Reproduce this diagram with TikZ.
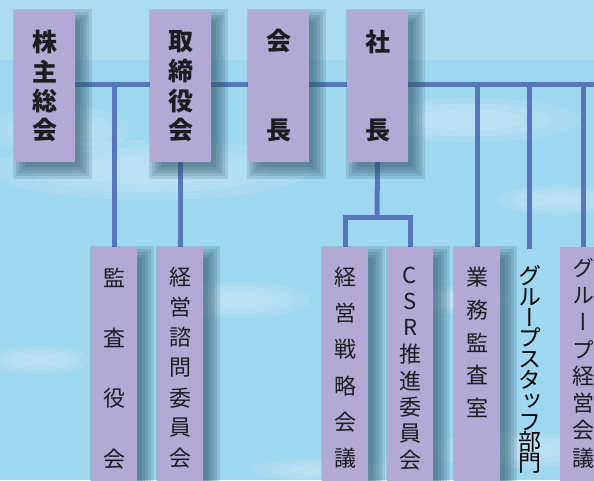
\documentclass[tikz,border=0pt]{standalone}
\usepackage{fontspec}
\newfontfamily\jp{Noto Sans CJK JP}
\newfontfamily\jpv[RawFeature=+vert]{Noto Sans CJK JP}
\definecolor{skyc}{RGB}{158,215,240}
\definecolor{boxc}{RGB}{178,170,212}
\definecolor{linec}{RGB}{88,118,186}
\definecolor{shadc}{RGB}{45,85,105}
\definecolor{inkc}{RGB}{30,28,32}
\pgfdeclarelayer{sky}
\pgfdeclarelayer{lines}
\pgfdeclarelayer{shadow}
\pgfsetlayers{sky,lines,shadow,main}
\newcommand\dropshadow[1]{%
  \foreach \r in {0,3,6,9,12}
    \fill[shadc,opacity=0.17] ([shift={(11-\r,11-\r)}]#1.north west) rectangle ([shift={(5+\r,5+\r)}]#1.south east);}
\newcommand\vcol[6]{%
  \foreach \ch [count=\i] in {#6}
    \node[#5] (#1-\i) at (#2,{#3+(\i-1)*#4}) {\ch};}
\begin{document}
\begin{tikzpicture}[x=1pt,y=-1pt,
  topbox/.style={fill=boxc,draw=none,inner sep=0pt,minimum width=61pt,minimum height=152pt},
  lowbox/.style={fill=boxc,draw=none,inner sep=0pt,minimum width=46pt,minimum height=243pt},
  toptxt/.style={inner sep=0pt,text=inkc,font={\jp\bfseries\fontsize{25}{25}\selectfont}},
  lowtxt/.style={inner sep=0pt,text=inkc,font={\jpv\fontsize{22}{22}\selectfont}},
  stafftxt/.style={inner sep=0pt,text height=15pt,text depth=2pt,text=black,font={\jpv\fontsize{23}{23}\selectfont}},
  conn/.style={draw=linec,line width=5pt}]
\useasboundingbox (0,0) rectangle (594,480);
\begin{pgfonlayer}{sky}
  \fill[skyc] (0,0) rectangle (594,480);
  \fill[white,opacity=0.15] (0,0) rectangle (594,60);
  \foreach \cx/\cy/\rx/\ry in {150/170/160/30, 60/130/70/25, 240/300/70/18, 450/300/60/14, 470/120/110/22, 520/450/90/18, 330/470/80/12, 40/360/50/14, 560/200/60/15}{
    \foreach \s in {1,0.75,0.5}
      \fill[white,opacity=0.11] (\cx,\cy) ellipse ({\rx*\s} and {\ry*\s});
  }
\end{pgfonlayer}
% top boxes
\node[topbox] (A) at (44.5,86) {};
\node[topbox] (B) at (180.5,86) {};
\node[topbox] (C) at (278.5,86) {};
\node[topbox] (D) at (377.5,86) {};
% lower boxes
\node[lowbox] (E) at (114,368.5) {};
\node[lowbox] (F) at (180,368.5) {};
\node[lowbox] (G) at (345,368.5) {};
\node[lowbox] (H) at (410,368.5) {};
\node[lowbox] (I) at (477,368.5) {};
\node[lowbox] (K) at (583,368.5) {};
% texts
\vcol{ta}{44.5}{42}{29.3}{toptxt}{株,主,総,会}
\vcol{tb}{180.5}{42}{29.3}{toptxt}{取,締,役,会}
\vcol{tc}{278.5}{41}{89}{toptxt}{会,長}
\vcol{td}{377.5}{42}{88}{toptxt}{社,長}
\vcol{te}{114}{278}{60.3}{lowtxt}{監,査,役,会}
\vcol{tf}{180}{277}{30.2}{lowtxt}{経,営,諮,問,委,員,会}
\vcol{tg}{345}{277}{36.2}{lowtxt}{経,営,戦,略,会,議}
\vcol{th}{410}{275}{26.4}{lowtxt}{C,S,R,推,進,委,員,会}
\vcol{ti}{477}{277}{32.8}{lowtxt}{業,務,監,査,室}
\vcol{tj}{530}{278}{20.8}{stafftxt}{グ,ル,ー,プ,ス,タ,ッ,フ,部,門}
\vcol{tk}{583}{268}{27.1}{lowtxt}{グ,ル,ー,プ,経,営,会,議}
% coordinates
\coordinate (hR) at (594,84);
\coordinate (gsTop) at (529,249);
\coordinate (split) at (377,217);
% shadows
\begin{pgfonlayer}{shadow}
  \dropshadow{A}\dropshadow{B}\dropshadow{C}\dropshadow{D}
  \dropshadow{E}\dropshadow{F}\dropshadow{G}\dropshadow{H}\dropshadow{I}
\end{pgfonlayer}
% connectors
\begin{pgfonlayer}{lines}
  \draw[conn] (A.east |- hR) -- (hR);
  \draw[conn] (E.north) -- (E.north |- hR);
  \draw[conn] (B.south) -- (B.south -| F.north) -- (F.north);
  \draw[conn] (D.south) -- (split);
  \draw[conn,line cap=rect] (G.north) -- (G.north |- split) -- (H.north |- split) -- (H.north);
  \draw[conn] (I.north) -- (I.north |- hR);
  \draw[conn] (gsTop) -- (gsTop |- hR);
  \draw[conn] (K.north) -- (K.north |- hR);
\end{pgfonlayer}
\end{tikzpicture}
\end{document}
